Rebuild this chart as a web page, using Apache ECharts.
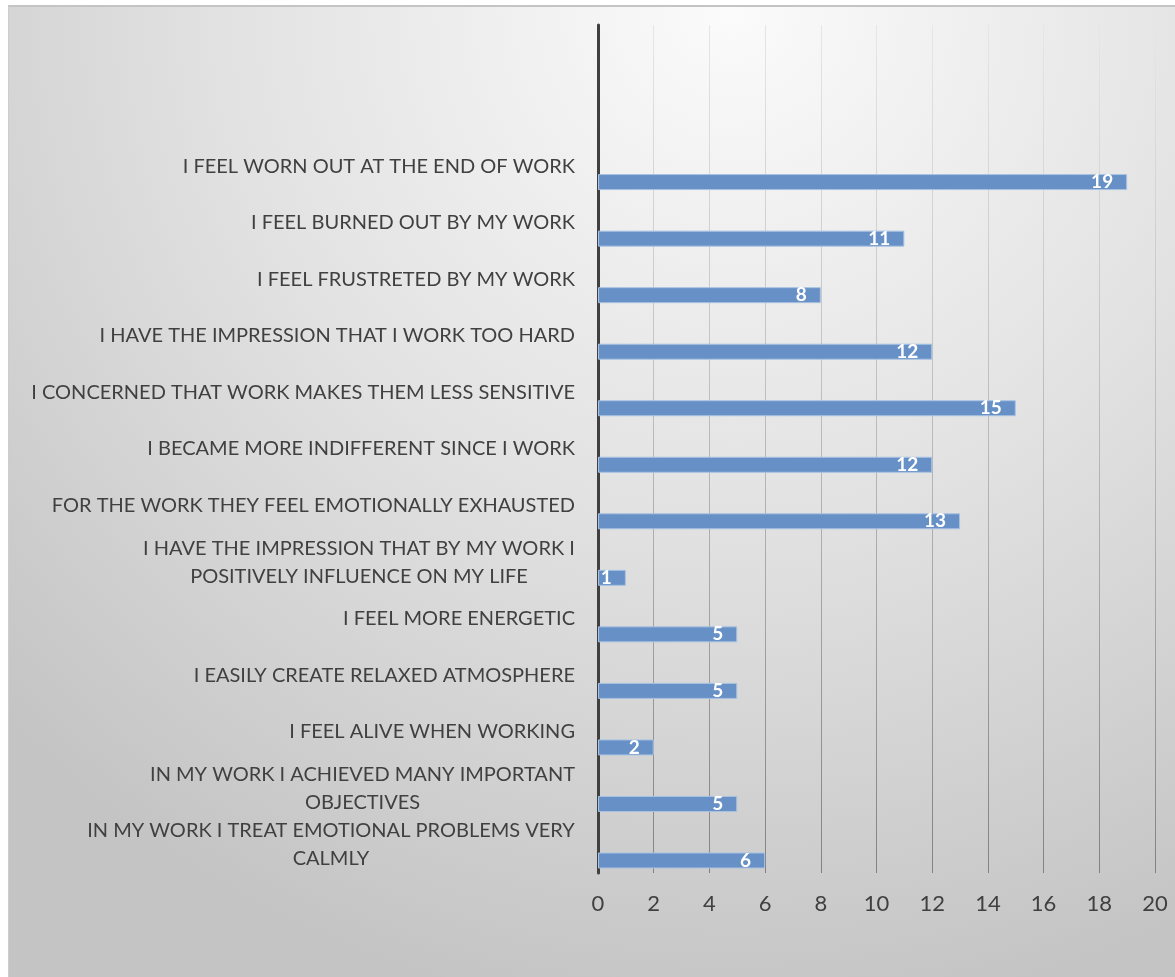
<!DOCTYPE html>
<html>
<head>
<meta charset="utf-8">
<script src="https://cdn.jsdelivr.net/npm/echarts@6/dist/echarts.min.js"></script>
<style>
  body { margin: 0; background: #ffffff; }
  #frame {
    position: absolute; left: 8px; top: 5px;
    border-top: 2px solid #c4c4c4; border-left: 1px solid #cdcdcd;
  }
  #chart { width: 1166px; height: 970px; }
</style>
</head>
<body>
<div id="frame"><div id="chart"></div></div>
<script>
// categories, top to bottom (two empty slots at the top like the original)
const categories = [
  "",
  "",
  "I FEEL WORN OUT AT THE END OF WORK",
  "I FEEL BURNED OUT BY MY WORK",
  "I FEEL FRUSTRETED BY MY WORK",
  "I HAVE THE IMPRESSION THAT I WORK TOO HARD",
  "I CONCERNED THAT WORK MAKES THEM LESS SENSITIVE",
  "I BECAME MORE INDIFFERENT SINCE I WORK",
  "FOR THE WORK THEY FEEL EMOTIONALLY EXHAUSTED",
  "I HAVE THE IMPRESSION THAT BY MY WORK I\nPOSITIVELY INFLUENCE ON MY LIFE",
  "I FEEL MORE ENERGETIC",
  "I EASILY CREATE RELAXED ATMOSPHERE",
  "I FEEL ALIVE WHEN WORKING",
  "IN MY WORK I ACHIEVED MANY IMPORTANT\nOBJECTIVES",
  "IN MY WORK I TREAT EMOTIONAL PROBLEMS VERY\nCALMLY"
];
const counts = [null, null, 19, 11, 8, 12, 15, 12, 13, 1, 5, 5, 2, 5, 6];
const emptySeries = categories.map(() => null);

const labelFont = "Lato";
const labelSize = 20;
const labelColor = "#404040";

/** centre the lines of two-line labels inside their block */
const ctx = document.createElement("canvas").getContext("2d");
ctx.font = labelSize + "px " + labelFont;
const rich = {};
categories.forEach((c, i) => {
  if (c.indexOf("\n") >= 0) {
    let w = Math.max(...c.split("\n").map(l => ctx.measureText(l).width));
    rich["c" + i] = {
      width: Math.ceil(w),
      align: "center",
      fontFamily: labelFont,
      fontSize: labelSize,
      color: labelColor,
      lineHeight: 28
    };
  }
});

var myChart = echarts.init(document.getElementById("chart"));

let option = {
  animation: false,
  backgroundColor: {
    type: "radial",
    x: 0.62,
    y: 0,
    r: 1.05,
    colorStops: [
      { offset: 0, color: "#fbfbfb" },
      { offset: 0.5, color: "#e2e2e2" },
      { offset: 1, color: "#c4c4c4" }
    ]
  },
  grid: {
    left: 589,
    right: 20,
    top: 18,
    bottom: 104,
    outerBoundsMode: "none"
  },
  xAxis: {
    type: "value",
    min: 0,
    max: 20,
    interval: 2,
    axisLine: { show: false },
    axisTick: { show: false },
    axisLabel: {
      margin: 20,
      fontFamily: labelFont,
      fontSize: 22,
      color: labelColor
    },
    splitLine: {
      lineStyle: {
        width: 1,
        color: new echarts.graphic.LinearGradient(0, 18, 0, 866, [
          { offset: 0, color: "#e6e6e6" },
          { offset: 0.5, color: "#b8b8b8" },
          { offset: 1, color: "#828282" }
        ], true)
      }
    }
  },
  yAxis: {
    type: "category",
    inverse: true,
    data: categories,
    axisLine: { lineStyle: { color: "#404040", width: 3 } },
    axisTick: { show: false },
    axisLabel: {
      interval: 0,
      margin: 23,
      fontFamily: labelFont,
      fontSize: labelSize,
      color: labelColor,
      lineHeight: 28,
      rich: rich,
      formatter: function(value, index) {
        if (value.indexOf("\n") < 0) return value;
        return value.split("\n").map(l => "{c" + index + "|" + l + "}").join("\n");
      }
    }
  },
  series: [
    {
      // empty series, pushes the real bars down in each band
      type: "bar",
      data: emptySeries,
      barWidth: 16,
      barGap: "97%",
      silent: true
    },
    {
      type: "bar",
      data: counts,
      barWidth: 16,
      barGap: "97%",
      itemStyle: {
        color: "#6690c6",
        borderColor: "#a9c2e2",
        borderWidth: 1
      },
      label: {
        show: true,
        position: "insideRight",
        distance: 14,
        color: "#ffffff",
        fontFamily: labelFont,
        fontWeight: "bold",
        fontSize: 19
      }
    }
  ]
};
myChart.setOption(option);
</script>
</body>
</html>
